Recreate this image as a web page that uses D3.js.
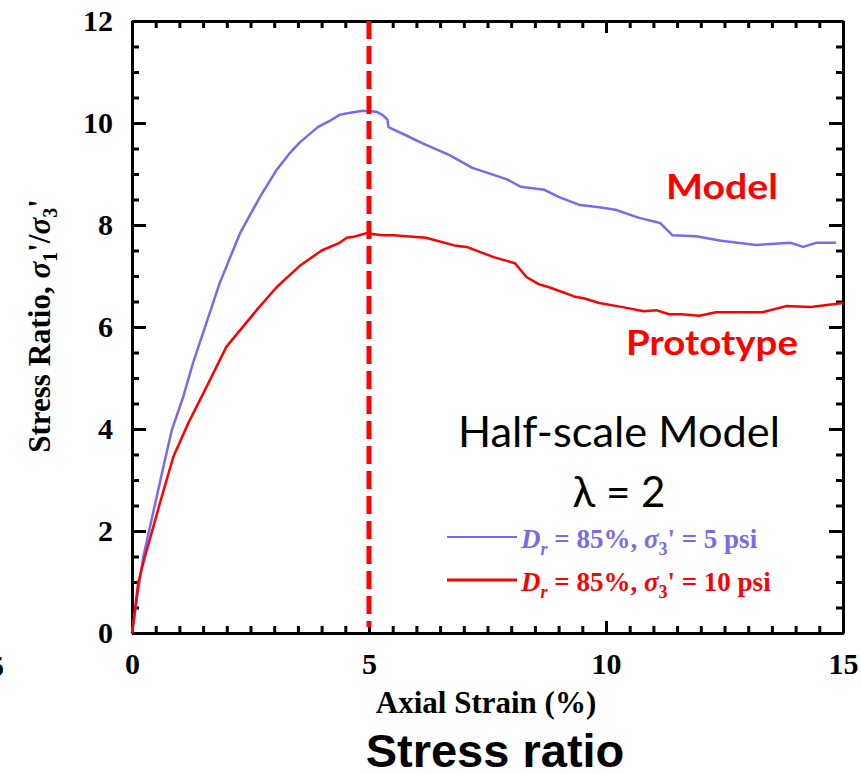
<!DOCTYPE html>
<html>
<head>
<meta charset="utf-8">
<script src="https://cdn.jsdelivr.net/npm/d3@7"></script>
<style>
  body { margin: 0; background: #fff; }
  svg { display: block; }
</style>
</head>
<body>
<div id="chart"></div>
<script>
// axial strain (%) vs stress ratio
var modelStrain = [0, 0.1, 0.24, 0.48, 0.66, 0.84, 1.08, 1.29, 1.57, 1.85, 2.13, 2.28, 2.7, 3.05, 3.33, 3.54, 3.92, 4.17, 4.38, 4.6, 4.87, 5.16, 5.3, 5.39, 5.41, 5.8, 6.13, 6.7, 7.18, 7.9, 8.2, 8.7, 9.0, 9.45, 9.86, 10.2, 10.7, 11.14, 11.4, 11.9, 12.43, 13.17, 13.9, 14.16, 14.43, 14.85];
var modelRatio = [0, 0.65, 1.5, 2.5, 3.25, 3.98, 4.63, 5.3, 6.08, 6.86, 7.5, 7.84, 8.55, 9.08, 9.41, 9.62, 9.92, 10.04, 10.16, 10.2, 10.24, 10.22, 10.15, 10.06, 9.92, 9.75, 9.6, 9.37, 9.12, 8.9, 8.75, 8.69, 8.55, 8.39, 8.35, 8.3, 8.14, 8.04, 7.8, 7.78, 7.69, 7.61, 7.65, 7.57, 7.65, 7.65];

var protoStrain = [0, 0.03, 0.13, 0.27, 0.45, 0.59, 0.87, 1.19, 1.57, 1.99, 2.63, 3.05, 3.54, 4.0, 4.38, 4.53, 4.68, 4.95, 5.28, 5.52, 6.2, 6.8, 7.06, 7.63, 8.08, 8.32, 8.58, 8.8, 9.33, 9.55, 9.86, 10.35, 10.8, 11.06, 11.33, 11.58, 11.97, 12.32, 13.3, 13.8, 14.32, 15.0];
var protoRatio = [0, 0.2, 0.98, 1.49, 2.08, 2.55, 3.45, 4.12, 4.82, 5.61, 6.33, 6.78, 7.2, 7.5, 7.65, 7.75, 7.77, 7.84, 7.8, 7.8, 7.75, 7.6, 7.57, 7.37, 7.25, 6.98, 6.84, 6.78, 6.6, 6.56, 6.47, 6.39, 6.31, 6.33, 6.25, 6.25, 6.22, 6.29, 6.29, 6.41, 6.39, 6.47];

var xMajor = [0, 5, 10, 15];
var yMajor = [0, 2, 4, 6, 8, 10, 12];
var peakStrain = 5;

var purple = "#7b68ee", red = "#ff0000";
var serif = "'Liberation Serif', 'Times New Roman', serif";
var sans = "Lato, 'Open Sans', sans-serif";

var svg = d3.select("#chart").append("svg")
    .attr("width", 861)
    .attr("height", 774);

var x = d3.scaleLinear().domain([0, 15]).range([132, 843]);
var y = d3.scaleLinear().domain([0, 12]).range([633, 21]);

var xMinor = d3.range(0, 15.01, 0.5);
var yMinor = d3.range(0, 12.01, 0.5);

function styleAxis(g) {
  g.select(".domain").attr("stroke", "#000").attr("stroke-width", 3);
  g.selectAll(".tick line").attr("stroke", "#000").attr("stroke-width", 3);
  g.selectAll("text")
    .attr("font-family", serif).attr("font-weight", "bold")
    .attr("font-size", 30).attr("fill", "#000");
}

// minor ticks first, then major ticks with labels
svg.append("g").attr("transform", "translate(0,633)")
  .call(d3.axisBottom(x).tickValues(xMinor).tickFormat("").tickSizeInner(-7).tickSizeOuter(0)).call(styleAxis);
svg.append("g").attr("transform", "translate(0,633)")
  .call(d3.axisBottom(x).tickValues(xMajor).tickFormat(d3.format("d")).tickSizeInner(-12).tickSizeOuter(0).tickPadding(20))
  .call(styleAxis);

svg.append("g").attr("transform", "translate(0,21)")
  .call(d3.axisTop(x).tickValues(xMinor).tickFormat("").tickSizeInner(-7).tickSizeOuter(0)).call(styleAxis);
svg.append("g").attr("transform", "translate(0,21)")
  .call(d3.axisTop(x).tickValues(xMajor).tickFormat("").tickSizeInner(-12).tickSizeOuter(0)).call(styleAxis);

svg.append("g").attr("transform", "translate(132,0)")
  .call(d3.axisLeft(y).tickValues(yMinor).tickFormat("").tickSizeInner(-7).tickSizeOuter(0)).call(styleAxis);
svg.append("g").attr("transform", "translate(132,0)")
  .call(d3.axisLeft(y).tickValues(yMajor).tickFormat(d3.format("d")).tickSizeInner(-14).tickSizeOuter(0).tickPadding(19))
  .call(styleAxis);

svg.append("g").attr("transform", "translate(843,0)")
  .call(d3.axisRight(y).tickValues(yMinor).tickFormat("").tickSizeInner(-7).tickSizeOuter(0)).call(styleAxis);
svg.append("g").attr("transform", "translate(843,0)")
  .call(d3.axisRight(y).tickValues(yMajor).tickFormat("").tickSizeInner(-14).tickSizeOuter(0)).call(styleAxis);

// curves
var line = d3.line().x(d => x(d[0])).y(d => y(d[1]));
svg.append("path")
  .datum(d3.zip(modelStrain, modelRatio))
  .attr("d", line).attr("fill", "none")
  .attr("stroke", purple).attr("stroke-width", 2.5).attr("stroke-linejoin", "round");
svg.append("path")
  .datum(d3.zip(protoStrain, protoRatio))
  .attr("d", line).attr("fill", "none")
  .attr("stroke", red).attr("stroke-width", 2.5).attr("stroke-linejoin", "round");

// dashed line at peak
svg.append("line")
  .attr("x1", x(peakStrain)).attr("x2", x(peakStrain))
  .attr("y1", y(12)).attr("y2", y(0) - 6)
  .attr("stroke", red).attr("stroke-width", 5)
  .attr("stroke-dasharray", "18,7");

// annotations
svg.append("text").attr("x", 666).attr("y", 199)
  .attr("font-family", sans).attr("font-weight", "bold")
  .attr("font-size", 35).attr("fill", red)
  .attr("textLength", 112).attr("lengthAdjust", "spacingAndGlyphs").text("Model");
svg.append("text").attr("x", 626).attr("y", 355)
  .attr("font-family", sans).attr("font-weight", "bold")
  .attr("font-size", 35).attr("fill", red)
  .attr("textLength", 172).attr("lengthAdjust", "spacingAndGlyphs").text("Prototype");
svg.append("text").attr("x", 458).attr("y", 447)
  .attr("font-family", sans)
  .attr("font-size", 42).attr("fill", "#000")
  .attr("textLength", 322).attr("lengthAdjust", "spacingAndGlyphs").text("Half-scale Model");
svg.append("text").attr("x", 619).attr("y", 507)
  .attr("text-anchor", "middle").attr("font-family", sans)
  .attr("font-size", 42).attr("fill", "#000").text("λ = 2");

// legend
var legend = [
  {color: purple, y: 537, w: 2, psi: "5"},
  {color: red, y: 580, w: 3, psi: "10"}
];
legend.forEach(function(l) {
  svg.append("line").attr("x1", 447).attr("x2", 517)
    .attr("y1", l.y).attr("y2", l.y)
    .attr("stroke", l.color).attr("stroke-width", l.w);
  var t = svg.append("text").attr("x", 521).attr("y", l.y + 11)
    .attr("font-family", serif).attr("font-weight", "bold")
    .attr("font-size", 27).attr("fill", l.color);
  t.append("tspan").attr("font-style", "italic").text("D");
  t.append("tspan").attr("font-style", "italic").attr("font-size", 18).attr("dy", 7).text("r");
  t.append("tspan").attr("dy", -7).text(" = 85%, ");
  t.append("tspan").attr("font-style", "italic").text("σ");
  t.append("tspan").attr("font-size", 18).attr("dy", 7).text("3");
  t.append("tspan").attr("dy", -7).text("' = " + l.psi + " psi");
});

// axis titles
svg.append("text").attr("x", 486).attr("y", 713)
  .attr("text-anchor", "middle").attr("font-family", serif).attr("font-weight", "bold")
  .attr("font-size", 31).attr("fill", "#000").text("Axial Strain (%)");

var yl = svg.append("text")
  .attr("transform", "translate(50,326) rotate(-90)")
  .attr("text-anchor", "middle").attr("font-family", serif).attr("font-weight", "bold")
  .attr("font-size", 31).attr("fill", "#000");
yl.append("tspan").text("Stress Ratio, ");
yl.append("tspan").attr("font-style", "italic").text("σ");
yl.append("tspan").attr("font-size", 20).attr("dy", 7).text("1");
yl.append("tspan").attr("dy", -7).text("'/");
yl.append("tspan").attr("font-style", "italic").text("σ");
yl.append("tspan").attr("font-size", 20).attr("dy", 7).text("3");
yl.append("tspan").attr("dy", -7).text("'");

svg.append("text").attr("x", 495).attr("y", 767)
  .attr("text-anchor", "middle").attr("font-family", "'Liberation Sans', Arial, sans-serif").attr("font-weight", "bold")
  .attr("font-size", 47).attr("fill", "#000").text("Stress ratio");

// cut-off label from the neighbouring panel
svg.append("text").attr("x", 4).attr("y", 676)
  .attr("text-anchor", "end").attr("font-family", serif).attr("font-weight", "bold")
  .attr("font-size", 30).attr("fill", "#000").text("5");
</script>
</body>
</html>
